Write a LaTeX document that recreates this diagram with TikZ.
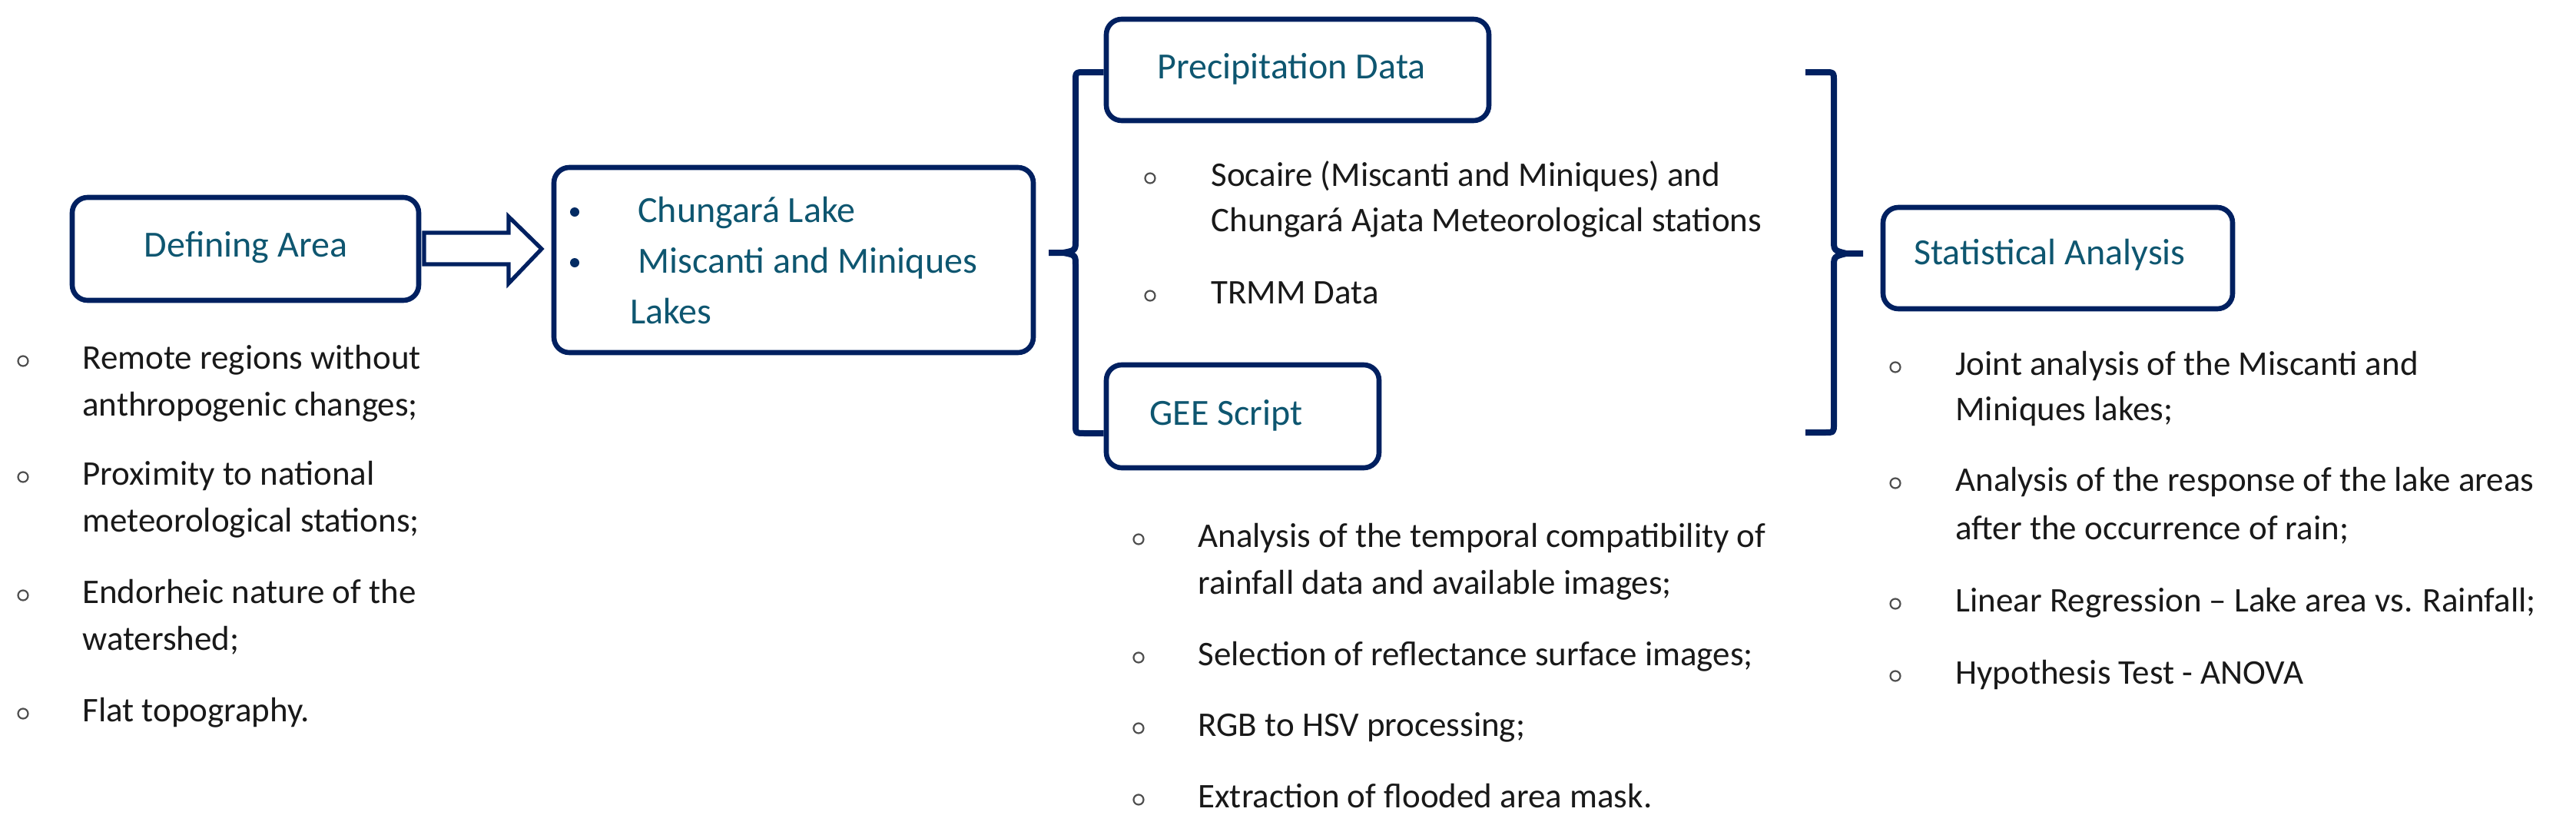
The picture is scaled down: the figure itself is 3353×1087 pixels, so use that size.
\documentclass[tikz,border=0pt]{standalone}
\usepackage{fontspec}
\setmainfont{Carlito}
\usetikzlibrary{calc}
\definecolor{boxblue}{RGB}{0,32,96}
\definecolor{titleteal}{RGB}{14,86,112}
\definecolor{bulgray}{RGB}{80,80,80}
\begin{document}
\begin{tikzpicture}[x=0.5pt,y=-0.5pt,
  box/.style={draw=boxblue,line width=3.3pt,rounded corners=10pt,inner sep=0},
  title/.style={text=titleteal,font=\fontsize{24}{30}\selectfont,inner sep=0},
  body/.style={anchor=base west,inner sep=0,font=\fontsize{22.5}{30}\selectfont,text=black!90},
  obul/.style={circle,draw=bulgray,line width=1.1pt,inner sep=0,minimum size=6.5pt},
  fbul/.style={circle,fill=boxblue!80!titleteal,inner sep=0,minimum size=6pt},
  brace/.style={draw=boxblue,line width=4pt,line join=round}]
\useasboundingbox (0,0) rectangle (3353,1087);
% boxes
\node[box,minimum width=225.5pt,minimum height=67pt] (defA) at (319.5,324) {};
\node[title] (defAt) at (320,322) {Defining Area};
\node[box,minimum width=312pt,minimum height=120.5pt] (chu) at (1033,338.5) {};
\node[box,minimum width=249pt,minimum height=66pt] (pre) at (1689,91) {};
\node[title] (pret) at (1681,90) {Precipitation Data};
\node[box,minimum width=177.5pt,minimum height=67pt] (gee) at (1617.5,542) {};
\node[title] (geet) at (1596,541) {GEE Script};
\node[box,minimum width=227.5pt,minimum height=66pt] (sta) at (2678.5,336) {};
\node[title] (stat) at (2668,332) {Statistical Analysis};
% Chungara contents
\node[fbul] (cb1) at (748,276) {};
\node[title,anchor=base west] (c1) at (830,289) {Chungará Lake};
\node[fbul] (cb2) at (748,342) {};
\node[title,anchor=base west] (c2) at (830,355) {Miscanti and Miniques};
\node[title,anchor=base west] (c3) at (820,421) {Lakes};
% hollow arrow
\draw[boxblue,line width=2.6pt,line join=miter] (552,303) -- (662,303) -- (662,282) -- (705,324) -- (662,369) -- (662,344) -- (552,344) -- cycle;
% left brace
\draw[brace] (pre.west) ++(0,3) -- (1412,94) .. controls (1400,94) .. (1400,106) -- (1400,312)
  .. controls (1400,326) .. (1384,329) -- (1365,329) (1384,329) .. controls (1400,332) .. (1400,346)
  -- (1400,552) .. controls (1400,564) .. (1412,564) -- ($(gee.west)+(0,22)$);
% right brace
\draw[brace] (2350,94) -- (2375,94) .. controls (2387,94) .. (2387,106) -- (2387,312)
  .. controls (2387,326) .. (2403,330) -- (2425,330) (2403,330) .. controls (2387,334) .. (2387,348)
  -- (2387,552) .. controls (2387,563) .. (2375,563) -- (2350,563);
% left list
\node[obul] (l1b) at (30,470) {};
\node[body] (l1a) at (107,480) {Remote regions without};
\node[body] (l1c) at (107,541) {anthropogenic changes;};
\node[obul] (l2b) at (30,621) {};
\node[body] (l2a) at (107,631) {Proximity to national};
\node[body] (l2c) at (107,692) {meteorological stations;};
\node[obul] (l3b) at (30,775) {};
\node[body] (l3a) at (107,785) {Endorheic nature of the};
\node[body] (l3c) at (107,846) {watershed;};
\node[obul] (l4b) at (30,929) {};
\node[body] (l4a) at (107,939) {Flat topography.};
% precipitation list
\node[obul] (p1b) at (1497,232) {};
\node[body] (p1a) at (1576,242) {Socaire (Miscanti and Miniques) and};
\node[body] (p1c) at (1576,301) {Chungará Ajata Meteorological stations};
\node[obul] (p2b) at (1497,385) {};
\node[body] (p2a) at (1576,395) {TRMM Data};
% GEE list
\node[obul] (g1b) at (1482,702) {};
\node[body] (g1a) at (1559,712) {Analysis of the temporal compatibility of};
\node[body] (g1c) at (1559,773) {rainfall data and available images;};
\node[obul] (g2b) at (1482,856) {};
\node[body] (g2a) at (1559,866) {Selection of reflectance surface images;};
\node[obul] (g3b) at (1482,948) {};
\node[body] (g3a) at (1559,958) {RGB to HSV processing;};
\node[obul] (g4b) at (1482,1041) {};
\node[body] (g4a) at (1559,1051) {Extraction of flooded area mask.};
% stats list
\node[obul] (s1b) at (2467,478) {};
\node[body] (s1a) at (2545,488) {Joint analysis of the Miscanti and};
\node[body] (s1c) at (2545,547) {Miniques lakes;};
\node[obul] (s2b) at (2467,629) {};
\node[body] (s2a) at (2545,639) {Analysis of the response of the lake areas};
\node[body] (s2c) at (2545,702) {after the occurrence of rain;};
\node[obul] (s3b) at (2467,786) {};
\node[body] (s3a) at (2545,796) {Linear Regression – Lake area vs. Rainfall;};
\node[obul] (s4b) at (2467,880) {};
\node[body] (s4a) at (2545,890) {Hypothesis Test - ANOVA};
\end{tikzpicture}
\end{document}
